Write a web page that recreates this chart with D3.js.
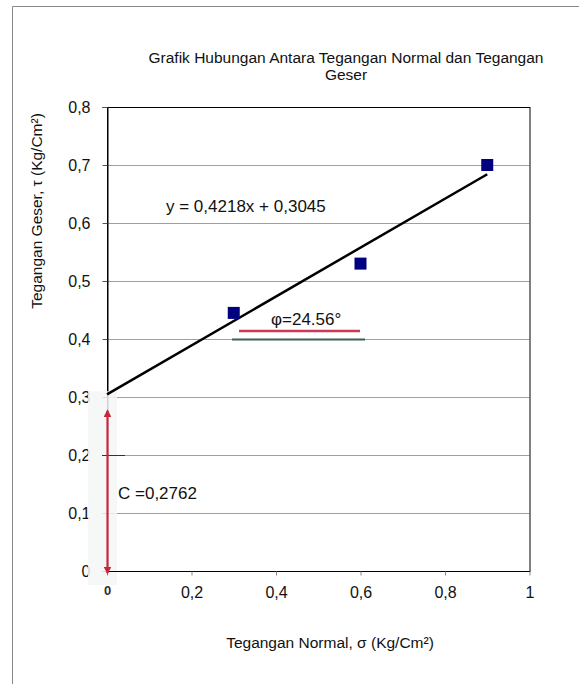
<!DOCTYPE html>
<html>
<head>
<meta charset="utf-8">
<script src="https://cdn.jsdelivr.net/npm/d3@7"></script>
<style>
  body { margin: 0; background: #fff; }
  svg { display: block; font-family: "Liberation Sans", Arial, sans-serif; }
</style>
</head>
<body>
<div id="chart"></div>
<script>
// Data
const normalStress = [0.3, 0.6, 0.9];
const shearStress = [0.445, 0.53, 0.70];
const xTicks = [0, 0.2, 0.4, 0.6, 0.8, 1];
const yTicks = [0, 0.1, 0.2, 0.3, 0.4, 0.5, 0.6, 0.7, 0.8];
const slope = 0.4218;
const intercept = 0.3045;
const cohesion = 0.2762;

const width = 579;
const height = 684;
const margin = { top: 107, right: 49.5, bottom: 113, left: 107 };

const svg = d3
  .select("#chart")
  .append("svg")
  .attr("width", width)
  .attr("height", height);

// Outer frame (only left and top edges show)
svg.append("path")
  .attr("d", `M12.5,${height} V6.5 H${width}`)
  .attr("fill", "none")
  .attr("stroke", "#888");

const xScale = d3.scaleLinear().domain([0, 1]).range([margin.left, width - margin.right]);
const yScale = d3.scaleLinear().domain([0, 0.8]).range([height - margin.bottom, margin.top]);

const fmt = (d) => (d === 0 || d === 1 ? String(d) : d3.format(".1f")(d).replace(".", ","));

// Grid lines
svg.append("g")
  .selectAll("line")
  .data(yTicks.filter((d) => d > 0 && d < 0.8))
  .enter()
  .append("line")
  .attr("x1", xScale(0))
  .attr("x2", xScale(1))
  .attr("y1", (d) => Math.round(yScale(d)) + 0.5)
  .attr("y2", (d) => Math.round(yScale(d)) + 0.5)
  .attr("stroke", "#a0a0a0");

// Plot frame
svg.append("rect")
  .attr("x", xScale(0) + 0.5)
  .attr("y", yScale(0.8) + 0.5)
  .attr("width", xScale(1) - xScale(0))
  .attr("height", yScale(0) - yScale(0.8))
  .attr("fill", "none")
  .attr("stroke", "#000");

// Axes
const xAxis = d3.axisBottom(xScale).tickValues(xTicks).tickSize(4).tickPadding(11).tickFormat(fmt);
const gx = svg.append("g")
  .attr("transform", `translate(0, ${yScale(0) + 0.5})`)
  .call(xAxis);
gx.select(".domain").attr("stroke", "#000");
gx.selectAll(".tick line").attr("stroke", "#888");
gx.selectAll("text").attr("font-size", 16).attr("fill", "#111");

const yAxis = d3.axisLeft(yScale).tickValues(yTicks).tickSize(5).tickPadding(12).tickFormat(fmt);
const gy = svg.append("g")
  .attr("transform", `translate(${xScale(0) + 0.5}, 0)`)
  .call(yAxis);
gy.select(".domain").attr("stroke", "#000");
gy.selectAll(".tick line").attr("stroke", "#555");
gy.selectAll("text").attr("font-size", 16).attr("fill", "#111");

// Whitish patch from the edited original around the axis at x = 0
svg.append("rect")
  .attr("x", xScale(0) - 19)
  .attr("y", yScale(0.31))
  .attr("width", 29)
  .attr("height", yScale(0) - yScale(0.31) + 14)
  .attr("fill", "#f4f7f7")
  .attr("opacity", 0.85);
svg.append("line")
  .attr("x1", xScale(0) - 5).attr("x2", xScale(0) + 18)
  .attr("y1", Math.round(yScale(0.2)) + 0.5).attr("y2", Math.round(yScale(0.2)) + 0.5)
  .attr("stroke", "#333");
svg.append("line")
  .attr("x1", xScale(0)).attr("x2", xScale(0) + 18)
  .attr("y1", Math.round(yScale(0)) + 0.5).attr("y2", Math.round(yScale(0)) + 0.5)
  .attr("stroke", "#000");
// the "0" label sits on top of the patch
gx.raise();
gx.select(".domain").remove();
gx.selectAll(".tick").filter((d) => d === 0).select("text")
  .attr("font-size", 13).attr("font-weight", "bold").attr("fill", "#3a2a2a")
  .attr("y", 14).attr("dy", "0.71em");

// Trend line
const line = d3.line().x((d) => xScale(d)).y((d) => yScale(slope * d + intercept));
svg.append("path")
  .datum([0, 0.9])
  .attr("d", line)
  .attr("fill", "none")
  .attr("stroke", "#000")
  .attr("stroke-width", 2.5);

// Data points
svg.append("g")
  .selectAll("rect")
  .data(normalStress)
  .enter()
  .append("rect")
  .attr("x", (d) => xScale(d) - 6)
  .attr("y", (d, i) => yScale(shearStress[i]) - 6)
  .attr("width", 12)
  .attr("height", 12)
  .attr("fill", "#000080");

// Cohesion arrow
const defs = svg.append("defs");
defs.append("marker")
  .attr("id", "arr")
  .attr("viewBox", "0 0 10 10")
  .attr("refX", 8).attr("refY", 5)
  .attr("markerWidth", 3.5).attr("markerHeight", 3.5)
  .attr("orient", "auto-start-reverse")
  .append("path")
  .attr("d", "M0,0 L10,5 L0,10 z")
  .attr("fill", "#c8283c");
svg.append("line")
  .attr("x1", xScale(0) + 0.5).attr("x2", xScale(0) + 0.5)
  .attr("y1", yScale(cohesion)).attr("y2", yScale(0) + 2)
  .attr("stroke", "#c8283c")
  .attr("stroke-width", 2.2)
  .attr("marker-start", "url(#arr)")
  .attr("marker-end", "url(#arr)");

svg.append("text")
  .attr("x", 118).attr("y", 499)
  .attr("font-size", 17).attr("fill", "#111")
  .text("C =0,2762");

// Friction angle annotation
svg.append("text")
  .attr("x", 271).attr("y", 325)
  .attr("font-size", 17).attr("fill", "#111")
  .text("\u03c6=24.56\u00b0");
svg.append("line")
  .attr("x1", 239).attr("x2", 360)
  .attr("y1", 331).attr("y2", 331)
  .attr("stroke", "#cc3a55").attr("stroke-width", 2.5);
svg.append("line")
  .attr("x1", 232).attr("x2", 365)
  .attr("y1", yScale(0.4) + 0.5).attr("y2", yScale(0.4) + 0.5)
  .attr("stroke", "#3d5f55").attr("stroke-width", 2);

// Equation
svg.append("text")
  .attr("x", 166).attr("y", 212)
  .attr("font-size", 17).attr("fill", "#111")
  .text("y = 0,4218x + 0,3045");

// Title
const title = svg.append("text")
  .attr("text-anchor", "middle")
  .attr("font-size", 15.5)
  .attr("fill", "#111");
title.append("tspan").attr("x", 346).attr("y", 63)
  .text("Grafik Hubungan Antara Tegangan Normal dan Tegangan");
title.append("tspan").attr("x", 346).attr("y", 80).text("Geser");

// Axis labels
svg.append("text")
  .attr("x", 330).attr("y", 648)
  .attr("text-anchor", "middle")
  .attr("font-size", 15.5).attr("fill", "#111")
  .text("Tegangan Normal, \u03c3 (Kg/Cm\u00b2)");

svg.append("text")
  .attr("transform", "translate(42, 211) rotate(-90)")
  .attr("text-anchor", "middle")
  .attr("font-size", 15.5).attr("fill", "#111")
  .text("Tegangan Geser, \u03c4 (Kg/Cm\u00b2)");
</script>
</body>
</html>
